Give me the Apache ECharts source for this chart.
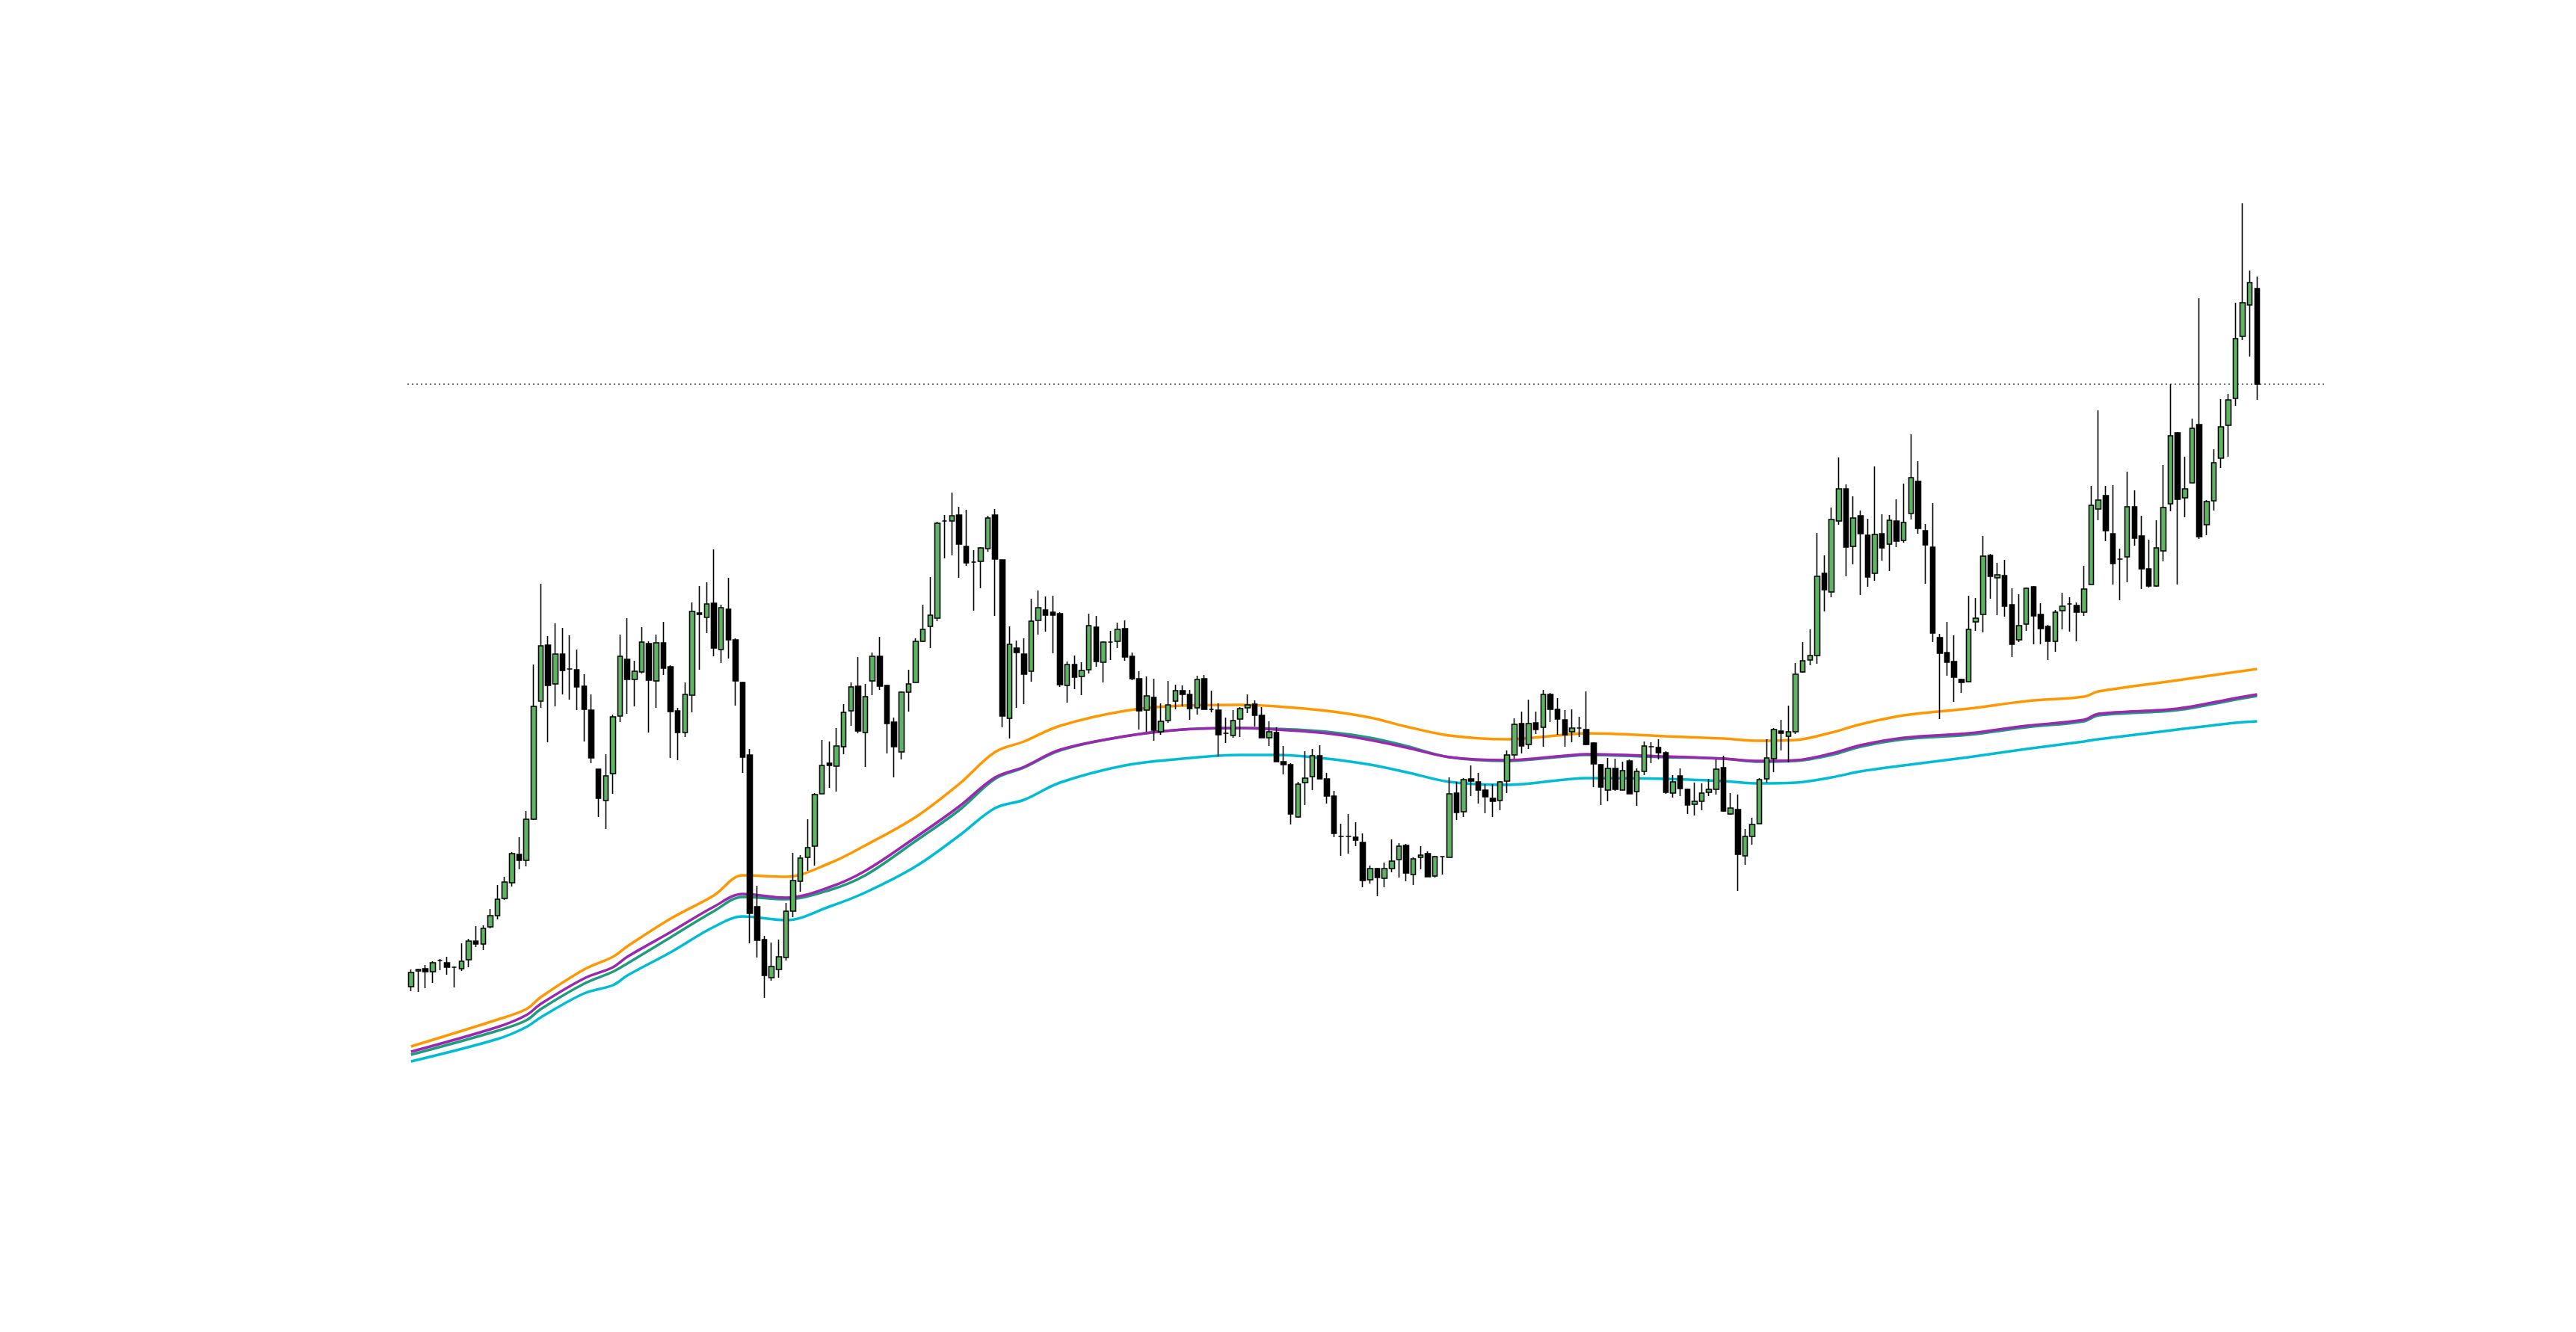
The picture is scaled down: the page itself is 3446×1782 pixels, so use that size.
<!DOCTYPE html>
<html><head><meta charset="utf-8">
<script src="https://cdn.jsdelivr.net/npm/echarts@6/dist/echarts.min.js"></script>
<style>html,body{margin:0;padding:0;background:#fff}#c{width:3446px;height:1782px}</style>
</head><body><div id="c"></div>
<script>
// candles: [open, close, low, high]
const candles = [
[462,481,456,485],[483,485,455,486],[486,482,460,491],[482,494,467,496],[497,497,484,499],
[494,488,478,502],[488,488,461,489],[486,496,483,520],[498,523,488,526],[523,519,515,543],
[519,540,511,544],[542,557,540,566],[557,579,552,598],[580,602,578,609],[601,640,596,642],
[639,631,619,662],[631,686,623,697],[686,837,685,893],[844,918,835,1001],[919,865,789,931],
[867,907,837,948],[907,885,853,942],[887,887,846,932],[886,863,832,913],[864,833,790,880],
[832,768,761,853],[753,714,689,753],[711,744,673,773],[747,823,720,826],[824,904,816,933],
[900,873,827,955],[873,884,837,898],[883,923,881,943],[921,872,802,924],[871,922,835,933],
[922,888,879,950],[890,830,768,892],[831,802,765,835],[802,853,796,869],[852,964,829,976],
[962,960,886,998],[956,974,935,1003],[975,915,904,1047],[913,969,895,973],[967,926,901,1009],
[926,871,838,928],[869,769,748,870],[772,560,520,780],[569,524,501,597],[525,477,447,530],
[474,489,470,521],[485,502,474,525],[501,563,497,574],[563,604,555,641],[603,634,589,638],
[635,648,617,686],[650,719,624,721],[720,758,720,792],[761,758,728,790],[757,784,723,808],
[783,829,773,840],[831,863,811,869],[864,804,801,903],[802,850,756,867],[871,904,852,909],
[904,864,859,930],[865,814,774,866],[816,783,742,822],[776,856,766,857],[856,867,830,886],
[869,924,869,928],[924,940,923,973],[944,959,915,1010],[955,1082,951,1084],[1085,1085,1035,1093],
[1085,1092,1039,1123],[1093,1054,1009,1104],[1051,1029,1025,1100],[1030,1030,965,1046],[1031,1049,995,1050],
[1048,1089,1044,1092],[1093,1034,958,1101],[1033,824,809,1033],[821,920,794,944],[915,909,835,925],
[907,880,840,928],[884,951,870,981],[952,969,933,992],[966,959,937,984],[963,959,908,985],
[961,866,863,963],[865,893,842,897],[893,876,860,905],[877,885,852,896],[886,945,881,961],
[943,897,890,958],[896,923,869,924],[923,923,899,938],[924,940,915,949],[941,903,898,952],
[904,874,872,909],[874,831,806,884],[832,851,803,877],[849,805,791,874],[803,817,799,841],
[818,839,815,871],[844,858,833,866],[858,853,837,865],[853,834,819,859],[835,873,826,878],
[874,833,833,879],[833,833,829,858],[832,799,770,841],[801,801,788,822],[798,818,795,832],
[820,834,796,836],[835,839,828,853],[840,825,810,845],[825,795,795,836],[795,803,784,817],
[802,763,763,809],[763,759,746,784],[759,693,679,761],[689,733,688,736],[735,741,705,777],
[743,771,725,780],[771,740,740,785],[740,717,707,748],[717,667,662,724],[663,663,637,680],
[663,663,640,693],[662,658,650,682],[655,604,595,667],[605,620,600,624],[620,608,583,621],
[607,620,595,628],[620,630,615,659],[632,650,608,654],[651,614,603,653],[612,633,598,635],
[635,638,619,650],[640,609,609,643],[610,636,608,637],[636,636,612,636],[635,720,635,742],
[721,695,685,736],[696,739,689,741],[740,737,717,758],[736,725,707,748],[725,716,694,733],
[714,710,689,733],[711,736,698,737],[737,772,721,778],[772,813,767,821],[814,784,774,830],
[786,814,780,846],[815,806,800,830],[809,853,783,859],[853,833,816,855],[833,820,799,848],
[819,799,783,832],[803,808,789,833],[808,808,796,823],[806,786,785,857],[788,760,729,789],
[759,729,705,760],[725,754,710,768],[754,726,724,767],[725,751,725,763],[764,720,720,766],
[723,750,704,754],[750,784,745,790],[783,783,761,789],[782,775,766,793],[775,722,720,777],
[721,736,715,745],[744,727,717,754],[726,705,693,727],[706,710,691,735],[710,721,698,734],
[722,726,717,740],[726,753,719,766],[755,697,696,771],[693,701,692,721],[699,639,590,719],
[637,663,625,673],[663,679,652,688],[680,739,680,741],[740,768,735,793],[767,806,749,808],
[804,801,778,819],[797,803,762,838],[803,880,800,895],[883,898,882,923],[899,905,892,940],
[905,1011,894,1069],[1015,993,964,1039],[990,1087,983,1103],[1085,1128,1080,1170],[1128,1050,1011,1134],
[1051,1089,1027,1118],[1092,1068,986,1099],[1066,1010,997,1088],[1015,1067,1005,1158],[1068,1049,1032,1094],
[1054,1086,1018,1093],[1085,1058,1050,1114],[1059,1083,1056,1135],[1095,1143,1087,1201],[1138,1075,1068,1165],
[1072,1053,1001,1081],[1050,935,923,1109],[929,908,820,934],[909,896,878,950],[897,876,843,932],
[873,869,855,874],[870,940,870,985],[950,955,938,982],[960,1038,936,1065],[1039,1011,981,1041],
[1009,1013,959,1029],[1012,971,957,1033],[973,920,903,995],[926,945,923,987],[947,995,938,996],
[997,958,920,998],[960,941,920,975],[944,924,899,946],[924,963,910,966],[965,971,940,989],
[974,974,937,983],[972,963,924,976],[963,994,958,1025],[1000,1106,1000,1132],[1101,1113,1086,1233],
[1119,1072,1058,1132],[1068,1028,1000,1133],[1034,1034,979,1048],[1037,1104,1003,1151],[1104,1062,1052,1126],
[1065,1021,994,1092],[1021,998,996,1060],[998,1049,997,1086],[1045,1103,1031,1160],[1108,1199,1098,1268],
[1203,1114,1000,1204],[1116,1128,1090,1171],[1136,1209,1136,1222],[1214,1064,1061,1383],[1080,1111,1066,1113],
[1112,1163,1099,1181],[1169,1211,1156,1248],[1213,1247,1171,1255],[1249,1329,1239,1377],[1332,1377,1327,1510],
[1374,1404,1305,1420],[1396,1268,1247,1412]
];
const lastPrice = 1268;
const extraSlots = 9;
// moving averages: [candle index, value]
const maOrange = [[0,382],[12,418],[16,432],[18,448],[24,485],[28,502],[30,516],[36,553],[42,584],[46,611],[52,609],[58,627],[63,651],[70,689],[76,733],[81,776],[85,790],[90,811],[99,831],[107,838],[115,839],[120,837],[127,831],[133,822],[138,810],[144,798],[152,793],[160,799],[163,801],[174,797],[182,794],[187,791],[192,792],[197,802],[201,813],[207,825],[216,834],[224,844],[232,850],[234,857],[245,872],[253,883],[256,887]];
const maPurple = [[0,375],[12,408],[16,424],[18,439],[24,473],[28,488],[30,502],[36,535],[42,569],[46,586],[52,581],[58,595],[63,617],[70,662],[76,703],[81,742],[85,756],[90,779],[99,797],[107,806],[115,808],[120,806],[127,801],[133,792],[138,782],[144,769],[152,765],[160,771],[163,773],[174,770],[182,767],[187,764],[192,765],[197,774],[201,785],[207,795],[216,801],[224,811],[232,819],[234,827],[245,834],[253,848],[256,853]];
const maTeal = [[0,371],[12,403],[16,417],[18,432],[24,466],[28,482],[30,493],[36,528],[42,563],[46,582],[52,579],[58,591],[63,611],[70,657],[76,698],[81,740],[85,755],[90,778],[99,797],[107,806],[115,808],[120,807],[127,803],[133,795],[138,784],[144,769],[152,764],[160,770],[163,772],[174,769],[182,767],[187,763],[192,764],[197,772],[201,783],[207,793],[216,799],[224,809],[232,817],[234,825],[245,832],[253,846],[256,851]];
const maCyan = [[0,362],[12,392],[16,408],[18,421],[24,453],[28,464],[30,477],[36,508],[42,542],[46,556],[52,551],[58,569],[63,588],[70,623],[76,664],[81,701],[85,712],[90,735],[99,758],[107,767],[115,772],[120,772],[127,767],[133,759],[138,749],[144,736],[152,732],[160,739],[163,741],[174,740],[182,737],[187,734],[192,735],[197,742],[201,750],[207,758],[216,769],[224,780],[232,790],[234,793],[245,806],[253,815],[256,817]];

const cats = [];
for (let i = 0; i < candles.length + extraSlots; i++) cats.push(String(i));

function ma(data, color, w, z) {
  return {type:'line', data:data, smooth:0.35, showSymbol:false, symbol:'none', z:z,
    lineStyle:{color:color, width:w}, itemStyle:{color:color}};
}
const chart = echarts.init(document.getElementById('c'));
chart.setOption({
  animation:false,
  backgroundColor:'#ffffff',
  grid:{left:545, right:335, top:0, bottom:0},
  xAxis:{type:'category', data:cats, show:false, boundaryGap:true},
  yAxis:{type:'value', min:0, max:1782, show:false, splitLine:{show:false}},
  series:[
    ma(maOrange,'#FF9800',3.5,2),
    ma(maCyan,'#00BCD4',3.5,2),
    ma(maTeal,'#1E9C7E',3.5,2),
    ma(maPurple,'#9C27B0',3.5,3),
    {type:'candlestick', data:candles, barWidth:7, z:5,
      itemStyle:{color:'#5DB563', color0:'#000000', borderColor:'#000000', borderColor0:'#000000', borderWidth:1.6},
      markLine:{silent:true, symbol:['none','none'], label:{show:false},
        lineStyle:{color:'#444', type:[2,4], width:1.5},
        data:[{yAxis:lastPrice}]}
    }
  ]
});
</script></body></html>
